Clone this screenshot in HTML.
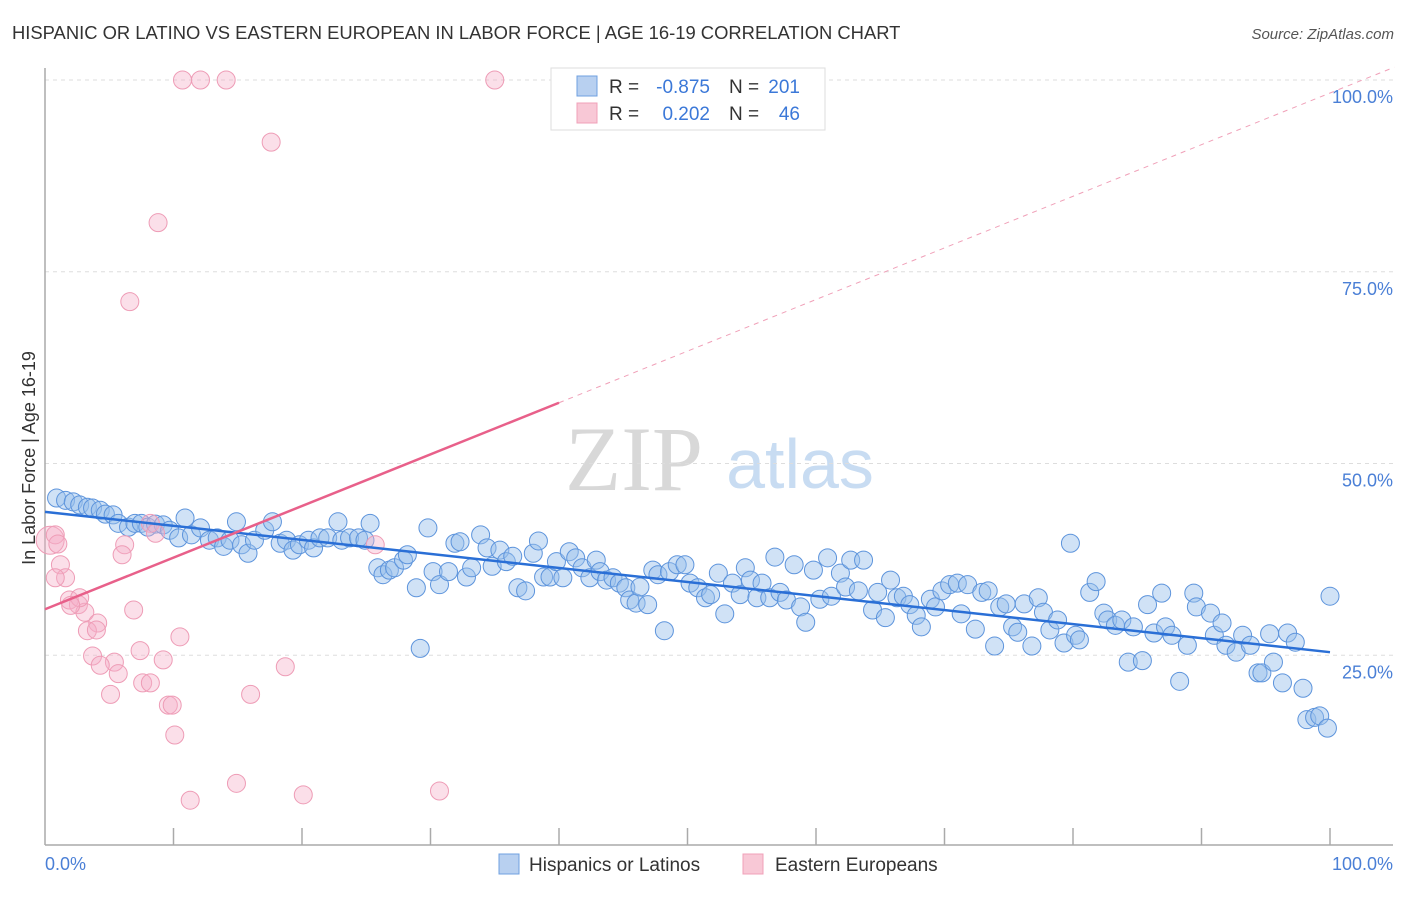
<!DOCTYPE html>
<html><head><meta charset="utf-8"><style>
body{margin:0;background:#fff;font-family:"Liberation Sans",sans-serif}
</style></head><body>
<svg id="c" width="1406" height="892" xmlns="http://www.w3.org/2000/svg">
<text x="12" y="39" font-size="18.4" fill="#333">HISPANIC OR LATINO VS EASTERN EUROPEAN IN LABOR FORCE | AGE 16-19 CORRELATION CHART</text>
<text x="1394" y="39" font-size="15" fill="#555" font-style="italic" text-anchor="end">Source: ZipAtlas.com</text>
<g>
<text x="634" y="490" font-size="92" fill="#d8d8d8" text-anchor="middle" font-family="Liberation Serif,serif">ZIP</text>
<text x="800" y="488" font-size="70" fill="#c8dcf2" text-anchor="middle">atlas</text></g>
<g id="grid"></g><g id="axes"></g><g id="pts"></g><g id="lines"></g>
<text transform="translate(35,458) rotate(-90)" font-size="18" fill="#333" text-anchor="middle">In Labor Force | Age 16-19</text>
<text x="45" y="870" font-size="18" fill="#4a7fd6">0.0%</text>
<text x="1393" y="870" font-size="18" fill="#4a7fd6" text-anchor="end">100.0%</text>
<g>
<rect x="551" y="68" width="274" height="62" fill="#fff" stroke="#ddd"/>
<rect x="577" y="76" width="20" height="20" fill="#b8d0f0" stroke="#6fa0e0"/>
<rect x="577" y="103" width="20" height="20" fill="#f8c8d6" stroke="#f0a0b8"/>
<text x="609" y="93" font-size="19" fill="#333">R =</text>
<text x="710" y="93" font-size="19" fill="#3b78d8" text-anchor="end">-0.875</text>
<text x="729" y="93" font-size="19" fill="#333">N =</text>
<text x="800" y="93" font-size="19" fill="#3b78d8" text-anchor="end">201</text>
<text x="609" y="120" font-size="19" fill="#333">R =</text>
<text x="710" y="120" font-size="19" fill="#3b78d8" text-anchor="end">0.202</text>
<text x="729" y="120" font-size="19" fill="#333">N =</text>
<text x="800" y="120" font-size="19" fill="#3b78d8" text-anchor="end">46</text>
</g>
<g>
<rect x="499" y="854" width="20" height="20" fill="#b8d0f0" stroke="#6fa0e0"/>
<text x="529" y="871" font-size="19" fill="#333">Hispanics or Latinos</text>
<rect x="743" y="854" width="20" height="20" fill="#f8c8d6" stroke="#f0a0b8"/>
<text x="775" y="871" font-size="19" fill="#333">Eastern Europeans</text>
</g>
</svg>
<script>
const yTicks=[25,50,75,100];
const yTickLabels=["25.0%","50.0%","75.0%","100.0%"];
const xTicks=[10,20,30,40,50,60,70,80,90,100];
const blueX=[0.9,1.6,2.2,2.7,3.3,3.7,4.3,4.7,5.3,5.7,6.5,7.0,7.5,8.0,8.6,9.2,9.7,10.4,10.9,11.4,12.1,12.8,13.4,13.9,14.4,14.9,15.3,15.8,16.3,17.1,17.7,18.3,18.8,19.3,19.8,20.5,20.9,21.4,22.0,22.8,23.1,23.7,24.4,24.9,25.3,25.9,26.3,26.8,27.2,27.9,28.2,28.9,29.2,29.8,30.2,30.7,31.4,31.9,32.3,32.8,33.2,33.9,34.4,34.8,35.4,35.9,36.4,36.8,37.4,38.0,38.4,38.8,39.3,39.8,40.3,40.8,41.3,41.8,42.4,42.9,43.2,43.7,44.2,44.7,45.2,45.5,46.0,46.3,46.9,47.3,47.7,48.2,48.6,49.2,49.8,50.2,50.8,51.4,51.8,52.4,52.9,53.5,54.1,54.5,54.9,55.4,55.8,56.4,56.8,57.2,57.7,58.3,58.8,59.2,59.8,60.3,60.9,61.2,61.9,62.3,62.7,63.3,63.7,64.4,64.8,65.4,65.8,66.3,66.8,67.3,67.8,68.2,68.9,69.3,69.8,70.4,71.0,71.3,71.8,72.4,72.9,73.4,73.9,74.3,74.8,75.3,75.7,76.2,76.8,77.3,77.7,78.2,78.8,79.3,79.8,80.2,80.5,81.3,81.8,82.4,82.7,83.3,83.8,84.3,84.7,85.4,85.8,86.3,86.9,87.2,87.7,88.3,88.9,89.4,89.6,90.7,91.0,91.6,91.9,92.7,93.2,93.8,94.4,94.7,95.3,95.6,96.3,96.7,97.3,97.9,98.2,98.8,99.2,99.8,100];
const blueY=[45.5,45.2,45.0,44.6,44.3,44.2,43.9,43.4,43.3,42.2,41.7,42.2,42.2,41.7,42.1,42.0,41.3,40.3,42.9,40.7,41.6,40.0,40.3,39.2,40.0,42.4,39.4,38.3,40.0,41.3,42.4,39.6,40.0,38.7,39.4,40.0,39.0,40.3,40.3,42.4,40.0,40.3,40.3,40.0,42.2,36.4,35.5,36.1,36.4,37.4,38.1,33.8,25.9,41.6,35.9,34.2,35.9,39.6,39.8,35.2,36.4,40.7,39.0,36.6,38.7,37.2,37.9,33.8,33.4,38.3,39.9,35.2,35.2,37.2,35.1,38.5,37.7,36.4,35.1,37.4,35.9,34.8,35.1,34.4,33.8,32.2,31.8,33.9,31.6,36.1,35.5,28.2,35.9,36.8,36.8,34.4,33.8,32.5,32.9,35.7,30.4,34.4,32.9,36.4,34.8,32.5,34.4,32.5,37.8,33.2,32.2,36.8,31.3,29.3,36.1,32.3,37.7,32.7,35.7,33.9,37.4,33.4,37.4,30.9,33.2,29.9,34.8,32.5,32.7,31.6,30.2,28.7,32.3,31.3,33.4,34.2,34.4,30.4,34.2,28.4,33.2,33.4,26.2,31.3,31.7,28.7,28.0,31.7,26.2,32.5,30.6,28.3,29.6,26.6,39.6,27.6,27.0,33.2,34.6,30.5,29.6,28.9,29.6,24.1,28.7,24.3,31.6,27.9,33.1,28.7,27.6,21.6,26.3,33.1,31.3,30.5,27.6,29.2,26.3,25.4,27.6,26.3,22.7,22.7,27.8,24.1,21.4,27.9,26.7,20.7,16.6,16.9,17.1,15.5,32.7];
const pinkX=[10.7,12.1,14.1,35.0,17.6,8.8,6.6,0.4,8.2,8.6,6.2,6.0,25.7,1.2,1.6,0.8,1.9,2.6,3.1,2.7,6.9,4.1,3.3,4.0,10.5,7.4,3.7,5.4,4.3,9.2,5.7,18.7,7.6,8.2,5.1,16.0,9.6,9.9,10.1,14.9,20.1,30.7,11.3,0.8,1.0,2.0];
const pinkY=[100,100,100,100,91.9,81.4,71.1,40.0,42.2,40.9,39.4,38.1,39.4,36.8,35.1,35.1,32.2,31.6,30.6,32.5,30.9,29.2,28.2,28.3,27.4,25.6,24.9,24.1,23.7,24.4,22.6,23.5,21.4,21.4,19.9,19.9,18.5,18.5,14.6,8.3,6.8,7.3,6.1,40.7,39.5,31.5];
const blueFit=[43.7,-0.183];
const pinkFit=[31.0,0.673];
const NS="http://www.w3.org/2000/svg";
const X0=45,X1=1330,Y0=847,Y100=80;
function sx(v){return X0+(X1-X0)*v/100;}
function sy(v){return Y0-(Y0-Y100)*v/100;}
function mk(tag,attrs,parent){const e=document.createElementNS(NS,tag);for(const k in attrs)e.setAttribute(k,attrs[k]);document.getElementById(parent).appendChild(e);return e;}
yTicks.forEach((t,i)=>{
 const l=mk('line',{x1:45,x2:1393,y1:sy(t),y2:sy(t),stroke:'#ddd','stroke-dasharray':'4,4'},'grid');
 
 
 const tx=mk('text',{x:1393,y:sy(t)+23,'font-size':18,fill:'#4a7fd6','text-anchor':'end'},'grid');
 tx.textContent=yTickLabels[i];
 
 
});
let a=mk('line',{x1:45,x2:45,y1:68,y2:845,stroke:'#aaa','stroke-width':1.5},'axes');


a=mk('line',{x1:45,x2:1393,y1:845,y2:845,stroke:'#aaa','stroke-width':1.5},'axes');


xTicks.forEach(t=>{const e=mk('line',{x1:sx(t),x2:sx(t),y1:828,y2:845,stroke:'#aaa','stroke-width':1.5},'axes');
 
 });
blueX.forEach((x,i)=>{const c=mk('circle',{cx:sx(x),cy:sy(blueY[i]),r:9,fill:'rgba(150,190,235,0.45)',stroke:'#5d94dc','stroke-width':1},'pts');
 
 });
pinkX.forEach((x,i)=>{const c=mk('circle',{cx:sx(x),cy:sy(pinkY[i]),r:(i==7?14:9),fill:'rgba(245,175,200,0.4)',stroke:'#ee9cb6','stroke-width':1},'pts');
 
 });
let ln=mk('line',{x1:sx(0),y1:sy(blueFit[0]),x2:sx(100),y2:sy(blueFit[0]+blueFit[1]*100),stroke:'#2a6fd6','stroke-width':2.5},'lines');


ln=mk('line',{x1:sx(0),y1:sy(pinkFit[0]),x2:sx(40),y2:sy(pinkFit[0]+pinkFit[1]*40),stroke:'#e8608a','stroke-width':2.5},'lines');


ln=mk('line',{x1:sx(40),y1:sy(pinkFit[0]+pinkFit[1]*40),x2:sx(105),y2:sy(pinkFit[0]+pinkFit[1]*105),stroke:'#f0a0b8','stroke-width':1,'stroke-dasharray':'5,5'},'lines');


</script>
</body></html>
